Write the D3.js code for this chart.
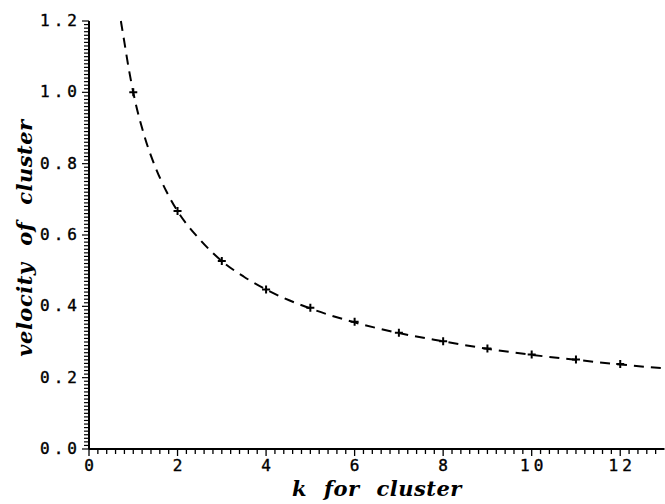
<!DOCTYPE html>
<html>
<head>
<meta charset="utf-8">
<script src="https://cdn.jsdelivr.net/npm/d3@7"></script>
<style>
  body { margin: 0; background: #fff; }
  .tick-lbl { font-family: "DejaVu Sans Mono", monospace; font-size: 16px; letter-spacing: 4px; font-variant-numeric: slashed-zero; stroke: #000; stroke-width: 0.4px; }
  .ax-title { font-family: "DejaVu Serif", serif; font-style: italic; font-weight: bold; font-size: 21px; word-spacing: 9px; letter-spacing: 0.5px; }
</style>
</head>
<body>
<div id="chart"></div>
<script>
// cluster index k and measured velocity (the + markers)
var kValues = [1, 2, 3, 4, 5, 6, 7, 8, 9, 10, 11, 12];
var velocity = [1.0, 0.667, 0.527, 0.447, 0.396, 0.357, 0.326, 0.302, 0.282, 0.265, 0.251, 0.238];

// dashed fit curve
var curveK = [0.72, 0.8, 0.9, 1, 1.25, 1.5, 1.75, 2, 2.5, 3, 3.5, 4, 5, 6, 7, 8, 9, 10, 11, 12, 13];
var curveV = [1.2, 1.14, 1.065, 1.0, 0.878, 0.79, 0.722, 0.667, 0.588, 0.527, 0.483, 0.447, 0.394, 0.355, 0.325, 0.302, 0.281, 0.264, 0.25, 0.237, 0.226];

var xTicks = [0, 2, 4, 6, 8, 10, 12];
var yTicks = [0, 0.2, 0.4, 0.6, 0.8, 1.0, 1.2];

var width = 665, height = 504;

var svg = d3.select("#chart").append("svg")
    .attr("width", width)
    .attr("height", height);

//Scales
var xScale = d3.scaleLinear().domain([0, 13]).range([89, 664.5]);
var yScale = d3.scaleLinear().domain([0, 1.2]).range([449, 21]);

//Minor ticks
var xMinor = d3.range(0, 65).map(function(i) { return i * 0.2; });
var yMinor = d3.range(0, 121).map(function(i) { return i * 0.01; });

var axes = svg.append("g").attr("class", "axes")
    .attr("stroke", "#000");

axes.selectAll(".xminor").data(xMinor).enter()
    .append("line")
    .attr("x1", function(d) { return xScale(d); })
    .attr("x2", function(d) { return xScale(d); })
    .attr("y1", 449)
    .attr("y2", function(d, i) { return i % 10 === 0 ? 456 : 454; })
    .attr("stroke-width", 1.3);

axes.selectAll(".yminor").data(yMinor).enter()
    .append("line")
    .attr("y1", function(d) { return yScale(d); })
    .attr("y2", function(d) { return yScale(d); })
    .attr("x1", 89)
    .attr("x2", function(d, i) { return i % 20 === 0 ? 82 : 84; })
    .attr("stroke-width", 1.2);

//Axis lines
axes.append("line")
    .attr("x1", xScale(0)).attr("x2", xScale(13))
    .attr("y1", yScale(0)).attr("y2", yScale(0))
    .attr("stroke-width", 2);
axes.append("line")
    .attr("x1", xScale(0)).attr("x2", xScale(0))
    .attr("y1", yScale(0)).attr("y2", yScale(1.2))
    .attr("stroke-width", 2);

//Tick labels
svg.selectAll(".xlbl").data(xTicks).enter()
    .append("text")
    .attr("class", "tick-lbl")
    .attr("x", function(d) { return xScale(d) + 2; })
    .attr("y", 471)
    .attr("text-anchor", "middle")
    .text(function(d) { return d; });

svg.selectAll(".ylbl").data(yTicks).enter()
    .append("text")
    .attr("class", "tick-lbl")
    .attr("x", 81)
    .attr("y", function(d) { return yScale(d) + 5; })
    .attr("text-anchor", "end")
    .text(function(d) { return d.toFixed(1); });

//Axis titles
svg.append("text")
    .attr("class", "ax-title")
    .attr("x", 377)
    .attr("y", 496)
    .attr("text-anchor", "middle")
    .text("k for cluster");

svg.append("text")
    .attr("class", "ax-title")
    .attr("transform", "translate(32,238) rotate(-90)")
    .attr("text-anchor", "middle")
    .text("velocity of cluster");

//Dashed curve
var curvePts = curveK.map(function(k, i) { return [k, curveV[i]]; });
var line = d3.line()
    .x(function(d) { return xScale(d[0]); })
    .y(function(d) { return yScale(d[1]); })
    .curve(d3.curveMonotoneX);

svg.append("path")
    .datum(curvePts)
    .attr("d", line)
    .attr("fill", "none")
    .attr("stroke", "#000")
    .attr("stroke-width", 2)
    .attr("stroke-dasharray", "10,7");

//Markers
svg.selectAll(".mark").data(kValues).enter()
    .append("path")
    .attr("transform", function(d, i) { return "translate(" + xScale(d) + "," + yScale(velocity[i]) + ")"; })
    .attr("d", "M-4,0H4M0,-4V4")
    .attr("stroke", "#000")
    .attr("stroke-width", 2);
</script>
</body>
</html>
